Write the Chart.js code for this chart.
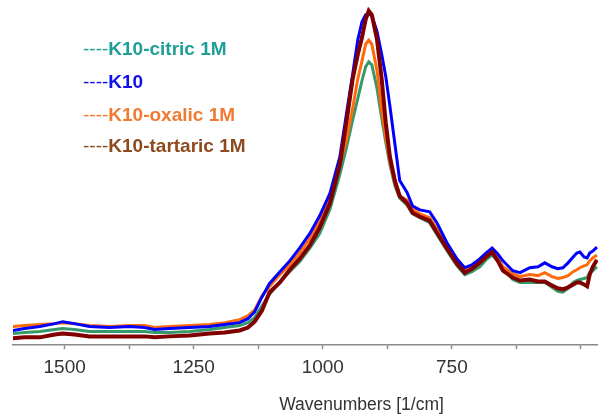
<!DOCTYPE html>
<html>
<head>
<meta charset="utf-8">
<script src="https://cdn.jsdelivr.net/npm/chart.js@4/dist/chart.umd.min.js"></script>
<style>
  html, body { margin: 0; padding: 0; background: #fff; overflow: hidden; }
  #wrap { position: relative; width: 598px; height: 416px; overflow: hidden; }
  canvas { position: absolute; left: 0; top: 0; }
  .lg { position: absolute; left: 83px; font-family: Arial, "Liberation Sans", sans-serif; font-size: 19px; line-height: 22px; white-space: nowrap; }
  .lg .d { font-weight: normal; }
  .lg .t { font-weight: bold; }
</style>
</head>
<body>
<div id="wrap">
  <canvas id="c" width="722" height="416"></canvas>
  <div id="legend"></div>
</div>
<script>
// Wavenumbers (cm-1), shared by all series
const wavenumbers = [1601,1578,1548,1519,1504,1481,1452,1413,1374,1345,1326,1297,1258,1219,1190,1161,1145,1132,1118,1103,1083,1064,1045,1025,1006,986,967,953,942,932,924,917,911,905,895,886,878,870,860,851,837,826,812,793,779,760,740,725,711,696,684,672,661,651,632,618,599,583,570,556,545,535,525,515,508,502,494,488,483,477,469];

const k10Citric = [0.12,0.13,0.14,0.16,0.17,0.16,0.14,0.14,0.14,0.14,0.13,0.13,0.14,0.16,0.18,0.20,0.23,0.28,0.40,0.52,0.65,0.75,0.85,0.99,1.14,1.39,1.74,2.04,2.30,2.52,2.70,2.84,2.89,2.86,2.62,2.32,2.07,1.84,1.62,1.50,1.43,1.34,1.30,1.25,1.13,0.97,0.81,0.72,0.75,0.80,0.87,0.92,0.86,0.78,0.67,0.64,0.64,0.64,0.64,0.59,0.55,0.54,0.58,0.64,0.66,0.67,0.68,0.69,0.74,0.76,0.80];

const k10 = [0.15,0.17,0.19,0.22,0.24,0.22,0.19,0.18,0.19,0.18,0.16,0.17,0.18,0.19,0.21,0.23,0.27,0.34,0.49,0.63,0.75,0.86,0.99,1.14,1.32,1.55,1.92,2.40,2.77,3.12,3.30,3.37,3.38,3.36,3.20,2.97,2.74,2.44,2.04,1.68,1.56,1.42,1.38,1.36,1.25,1.05,0.88,0.79,0.82,0.88,0.94,0.99,0.93,0.86,0.76,0.74,0.79,0.80,0.84,0.80,0.78,0.79,0.84,0.90,0.94,0.95,0.90,0.89,0.94,0.96,1.00];

const k10Oxalic = [0.19,0.20,0.21,0.22,0.23,0.22,0.20,0.19,0.20,0.20,0.18,0.19,0.20,0.21,0.23,0.26,0.30,0.36,0.50,0.60,0.72,0.82,0.94,1.09,1.26,1.49,1.84,2.12,2.42,2.72,2.90,3.07,3.11,3.07,2.80,2.40,2.12,1.87,1.64,1.52,1.48,1.39,1.34,1.30,1.19,1.02,0.86,0.77,0.81,0.87,0.92,0.97,0.89,0.80,0.73,0.70,0.72,0.71,0.74,0.70,0.68,0.69,0.71,0.75,0.77,0.79,0.81,0.82,0.86,0.89,0.92];

const k10Tartaric = [0.07,0.08,0.08,0.11,0.12,0.11,0.09,0.09,0.09,0.09,0.08,0.09,0.10,0.12,0.13,0.15,0.18,0.24,0.35,0.54,0.64,0.77,0.88,1.02,1.20,1.45,1.84,2.32,2.72,2.97,3.14,3.32,3.41,3.37,3.12,2.72,2.27,1.92,1.67,1.52,1.45,1.35,1.31,1.27,1.15,0.99,0.83,0.74,0.78,0.84,0.90,0.95,0.86,0.76,0.69,0.66,0.67,0.65,0.65,0.61,0.58,0.57,0.59,0.62,0.64,0.64,0.62,0.60,0.72,0.80,0.87];

const tickValues = [1500,1375,1250,1125,1000,875,750,625,500,375,250];
const tickLabels = ['1500','1250','1000','750'];

const legendItems = [
  { label: 'K10-citric 1M', color: '#1e9e96' },
  { label: 'K10', color: '#1010ee' },
  { label: 'K10-oxalic 1M', color: '#f07a32' },
  { label: 'K10-tartaric 1M', color: '#8c4a1e' }
];

function pts(arr) { return wavenumbers.map((w, i) => ({ x: w, y: arr[i] })); }

const lg = document.getElementById('legend');
const tops = [38, 71, 104, 135];
legendItems.forEach((it, i) => {
  const d = document.createElement('div');
  d.className = 'lg';
  d.style.top = tops[i] + 'px';
  d.style.color = it.color;
  d.innerHTML = '<span class="d">----</span><span class="t"></span>';
  d.querySelector('.t').textContent = it.label;
  lg.appendChild(d);
});

new Chart(document.getElementById('c'), {
  type: 'line',
  data: {
    datasets: [
      { label: 'K10-tartaric 1M', data: pts(k10Tartaric), borderColor: '#800000', borderWidth: 4 },
      { label: 'K10', data: pts(k10), borderColor: '#0000ff', borderWidth: 3 },
      { label: 'K10-oxalic 1M', data: pts(k10Oxalic), borderColor: '#ff6a0a', borderWidth: 3 },
      { label: 'K10-citric 1M', data: pts(k10Citric), borderColor: '#35996b', borderWidth: 3 }
    ]
  },
  options: {
    responsive: false,
    devicePixelRatio: 1,
    animation: false,
    elements: { point: { radius: 0 }, line: { tension: 0, fill: false } },
    layout: { padding: { left: 13, right: 12, top: 5, bottom: 0 } },
    plugins: { legend: { display: false }, tooltip: { enabled: false } },
    scales: {
      x: {
        type: 'linear',
        reverse: true,
        min: 250,
        max: 1600,
        afterBuildTicks: (s) => { s.ticks = tickValues.map(v => ({ value: v })); },
        border: { display: true, color: '#8a8a8a', width: 1.5 },
        grid: { display: true, drawOnChartArea: false, drawTicks: true, tickLength: 4, color: '#8a8a8a', tickWidth: 1.5 },
        ticks: {
          autoSkip: false,
          maxRotation: 0,
          padding: 7,
          color: '#333333',
          font: { family: 'Arial, "Liberation Sans", sans-serif', size: 19 },
          callback: (v) => tickLabels.includes(String(v)) ? String(v) : ''
        },
        title: {
          display: true,
          text: 'Wavenumbers [1/cm]',
          color: '#333333',
          font: { family: 'Arial, "Liberation Sans", sans-serif', size: 17.5 },
          padding: { top: 9, bottom: 0 }
        }
      },
      y: {
        display: false,
        min: 0,
        max: 3.47
      }
    }
  }
});
</script>
</body>
</html>
